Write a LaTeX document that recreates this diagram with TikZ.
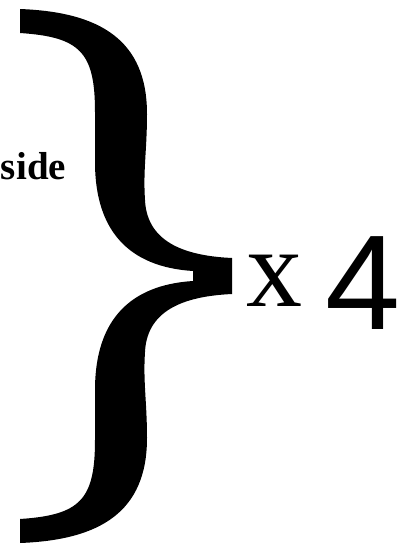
\documentclass[tikz,border=0pt]{standalone}
\usepackage{fontspec}
\setmainfont{Liberation Serif}
\newfontfamily\sansf{Liberation Sans}
\tikzset{
  lbl/.style={inner sep=0pt, outer sep=0pt, text=black},
  bracefill/.style={fill=black, draw=none}
}
\begin{document}
\begin{tikzpicture}[x=1pt,y=-1pt]
\useasboundingbox (0,0) rectangle (409,546);
% big curly brace
\path[bracefill]
  (20,9) .. controls (100,12) and (147,40) .. (147,114)
  .. controls (147,150) and (143,170) .. (145,200)
  .. controls (147,245) and (190,256) .. (232,258)
  -- (232,294)
  .. controls (190,296) and (147,307) .. (145,352)
  .. controls (143,382) and (147,402) .. (147,438)
  .. controls (147,512) and (100,540) .. (20,543)
  -- (20,519)
  .. controls (80,515) and (95,500) .. (95,440)
  -- (95,390)
  .. controls (95,320) and (130,285) .. (193,281)
  -- (193,271)
  .. controls (130,267) and (95,232) .. (95,162)
  -- (95,112)
  .. controls (95,52) and (80,37) .. (20,33)
  -- cycle;
\node[lbl, anchor=base east] (side) at (66,179) {\fontsize{39}{39}\selectfont\bfseries side};
\node[lbl, anchor=base west] (times) at (246,306) {\fontsize{112}{112}\selectfont x};
\node[lbl, anchor=base west] (four) at (325.5,329) {\fontsize{135}{135}\selectfont\sansf 4};
\end{tikzpicture}
\end{document}
